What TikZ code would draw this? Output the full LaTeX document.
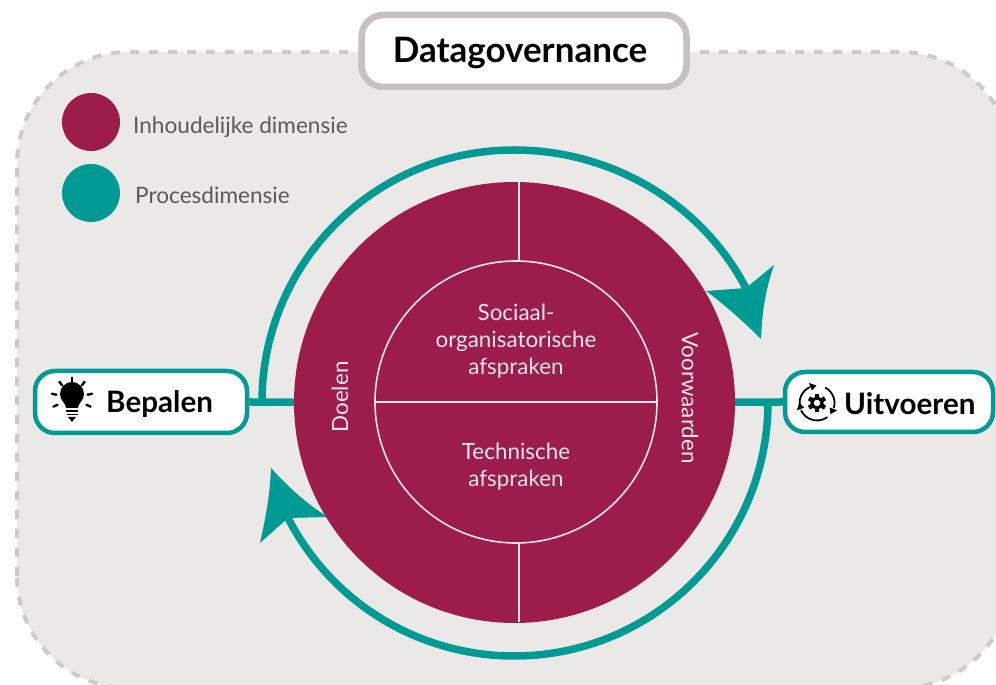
\documentclass[tikz,border=0pt]{standalone}
\usepackage{fontspec}
\setmainfont{Lato}
\definecolor{maroon}{HTML}{9C1C4A}
\definecolor{teal1}{HTML}{009A94}
\definecolor{panel}{HTML}{EAE9E8}
\definecolor{dashc}{HTML}{CFC9C7}
\definecolor{frame}{HTML}{C6C1BF}
\definecolor{legtxt}{HTML}{58595B}
\definecolor{pinkw}{HTML}{F8E6EC}
\newcommand{\fs}[1]{\fontsize{#1}{#1}\selectfont}
\tikzset{
  flow/.style={draw=teal1,line width=7.5pt},
  headfill/.style={fill=teal1,draw=none},
  tealbox/.style={draw=teal1,line width=4.5pt,fill=white,rounded corners=20pt,inner sep=0pt},
  legdot/.style={circle,inner sep=0pt,minimum size=58pt},
  legtext/.style={text=legtxt,anchor=west,inner sep=0pt,font=\fs{22.6}},
  disctext/.style={text=pinkw,align=center,inner sep=0pt,font=\fs{22.4}},
  sidetext/.style={text=pinkw,inner sep=0pt,font=\fs{22.4}},
  boxtext/.style={inner sep=0pt,font=\fs{29.6}\bfseries,anchor=west,text=black},
  divider/.style={draw=pinkw,line width=1.6pt},
  ico/.style={draw=black,line width=1.8pt,line cap=round}
}
\begin{document}
\begin{tikzpicture}[x=1pt,y=1pt]
\useasboundingbox (0,0) rectangle (996,685);
\fill[white] (0,0) rectangle (996,685);
\begin{scope}
\clip (0,0) rectangle (996,685);
\path[fill=panel,rounded corners=112pt] (17,-3) rectangle (1012,633);
\draw[dashc,line width=4pt,dash pattern=on 9pt off 10pt,rounded corners=112pt] (17,-3) rectangle (1012,633);
\end{scope}
% legend
\node[legdot,fill=maroon] (legA) at (91,563) {};
\node[legdot,fill=teal1] (legB) at (91,492) {};
\node[legtext] (legAt) at (133,557.5) {Inhoudelijke dimensie};
\node[legtext] (legBt) at (135,490) {Procesdimensie};
% title
\node[draw=frame,line width=6.5pt,fill=white,rounded corners=22pt,minimum width=325pt,minimum height=72pt,inner sep=0pt] (title) at (524,634) {};
\node[inner sep=0pt,font=\fs{35}\bfseries] (titlet) at (520,632) {Datagovernance};
% nodes
\node[tealbox,minimum width=212pt,minimum height=62pt] (bep) at (141,283) {};
\node[tealbox,minimum width=208pt,minimum height=60pt] (uit) at (889,283) {};
\node[circle,inner sep=0pt,minimum size=441pt] (disc) at (514.5,282.5) {};
\coordinate (topstart) at (262,283);
\coordinate (botstart) at (768,283);
% connectors
\draw[flow] (bep.east) -- (disc.center);
\draw[flow] (uit.west) -- (disc.center);
\draw[flow] (topstart) arc[start angle=180,end angle=90,radius=252pt]
  arc[start angle=90,end angle=26.9,x radius=260pt,y radius=252pt] coordinate (topend);
\draw[flow] (botstart) arc[start angle=360,end angle=207.2,radius=254pt] coordinate (botend);
% arrow heads
\path[headfill] (761,346) .. controls (762,365) and (763,388) .. (774,420) -- (746,397) -- (706,394) .. controls (725,380) and (745,362) .. (761,346) -- cycle;
\path[headfill] (271,217) .. controls (270,195) and (268,178) .. (260,142) -- (288,167) -- (328,168) .. controls (308,180) and (288,198) .. (271,217) -- cycle;
% disc
\node[circle,fill=maroon,inner sep=0pt,minimum size=441pt] (discf) at (514.5,282.5) {};
\node[circle,draw=pinkw,line width=1.6pt,inner sep=0pt,minimum size=282pt] (inner) at (516,283) {};
\draw[divider] (inner.west) -- (inner.east);
\coordinate (divtop) at (519,503);
\coordinate (divbot) at (519,63);
\draw[divider] (divtop) -- (519,424);
\draw[divider] (divbot) -- (519,142);
% disc text
\node[disctext] (soc) at (516,343.5) {Sociaal-\\[4.6pt]organisatorische\\[4.6pt]afspraken};
\node[disctext] (tech) at (516,218) {Technische\\[4.6pt]afspraken};
\node[sidetext,rotate=90] (doel) at (340,288) {Doelen};
\node[sidetext,rotate=-90] (voor) at (690,287) {Voorwaarden};
% box text
\node[boxtext] (bept) at (106,281) {Bepalen};
\node[boxtext] (uitt) at (844,281) {Uitvoeren};
% bulb icon
\begin{scope}[shift={(72,287)}]
\fill[black] (-6,-10) .. controls (-6,-5) and (-12,-3) .. (-12,4) arc[start angle=180,end angle=0,radius=12pt] .. controls (12,-3) and (6,-5) .. (6,-10) -- cycle;
\draw[black,line width=1.5pt] (-6,-13) -- (6,-13) (-5.5,-16.5) -- (5.5,-16.5);
\fill[black] (-4,-19) -- (4,-19) -- (0,-24) -- cycle;
\foreach \a in {90,52,128,12,168,-25,205}{
  \draw[ico,line width=2.4pt] (\a:16) -- (\a:20.5);
}
\end{scope}
% cycle icon
\begin{scope}[shift={(817,282)}]
\draw[ico] (115:17.5) arc[start angle=115,end angle=185,radius=17.5pt];
\draw[ico] (60:17.5) arc[start angle=60,end angle=-15,radius=17.5pt];
\draw[ico] (-55:17.5) arc[start angle=-55,end angle=-155,radius=17.5pt];
\fill[black] (112:21.5) -- (112:13.5) -- (92:17.5) -- cycle;
\fill[black] (-20:21.5) -- (-20:13.5) -- (-40:17.5) -- cycle;
\fill[black] (-160:21.5) -- (-160:13.5) -- (-180:17.5) -- cycle;
\foreach \a in {0,60,...,300}{ \fill[black,rotate=\a] (-2.2,5.5) rectangle (2.2,9.3); }
\draw[black,line width=3pt] (0,0) circle[radius=5pt];
\end{scope}
\end{tikzpicture}
\end{document}
